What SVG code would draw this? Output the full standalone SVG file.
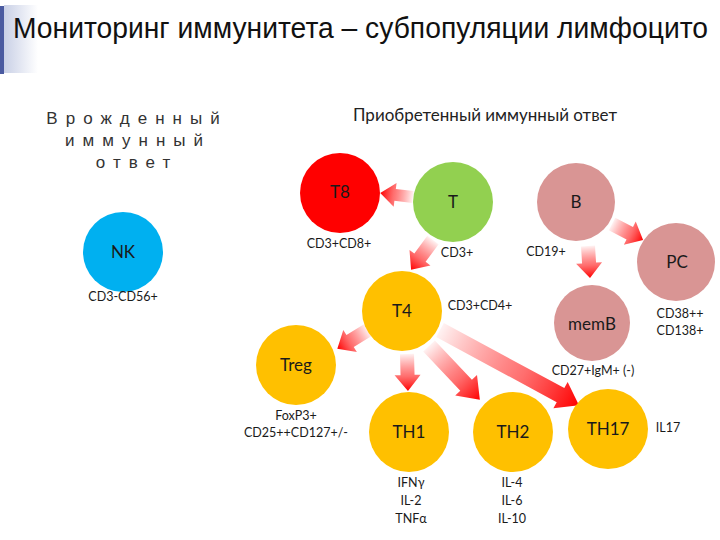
<svg xmlns="http://www.w3.org/2000/svg" width="720" height="540" viewBox="0 0 720 540">
<defs>
<linearGradient id="bar" x1="0" y1="0" x2="1" y2="0">
<stop offset="0" stop-color="#c9d0e6"/><stop offset="1" stop-color="#ffffff"/>
</linearGradient>
<linearGradient id="ag" x1="0" y1="0" x2="1" y2="0">
<stop offset="0" stop-color="#ff0000" stop-opacity="0.05"/>
<stop offset="0.6" stop-color="#ff3030" stop-opacity="0.7"/>
<stop offset="1" stop-color="#ff0000"/>
</linearGradient>
<style>
.lbl{font-family:Lato,"Open Sans","Liberation Sans",sans-serif;font-size:12.5px;fill:#1a1a1a;text-anchor:middle}
.nt{font-family:Lato,"Open Sans","Liberation Sans",sans-serif;font-size:17px;fill:#1a1a1a;text-anchor:middle}
.in{font-family:"Liberation Sans",Arial,sans-serif;font-size:17px;fill:#333;text-anchor:middle;letter-spacing:8px}
.arr{fill:url(#ag)}
</style>
</defs>
<rect width="720" height="540" fill="#ffffff"/>
<rect x="4" y="5" width="34" height="68" fill="url(#bar)"/>
<rect x="0" y="6" width="4" height="68" fill="#4a5aa0"/>
<text transform="translate(13,38) scale(1,1.25)" x="0" y="0" font-family="'Liberation Sans',Arial,sans-serif" font-size="24" fill="#111" textLength="695" lengthAdjust="spacingAndGlyphs">Мониторинг иммунитета – субпопуляции лимфоцито</text>
<g id="innate-title">
<text class="in" x="137" y="124">Врожденный</text>
<text class="in" x="138" y="146">иммунный</text>
<text class="in" x="137" y="168">ответ</text>
</g>
<text x="353" y="121" font-family="Lato,'Open Sans',sans-serif" font-size="17" fill="#222" textLength="264" lengthAdjust="spacingAndGlyphs">Приобретенный иммунный ответ</text>
<g id="connectors">
<path class="arr" transform="translate(413,197) rotate(186.9)" d="M0,-6 L18,-6 L18,-12 L33,0 L18,12 L18,6 L0,6 Z"/>
<path class="arr" transform="translate(433,240) rotate(126.3)" d="M0,-7 L22,-7 L22,-13 L37,0 L22,13 L22,7 L0,7 Z"/>
<path class="arr" transform="translate(588,246) rotate(86.4)" d="M0,-7 L17,-7 L17,-13 L32,0 L17,13 L17,7 L0,7 Z"/>
<path class="arr" transform="translate(612,224) rotate(27.3)" d="M0,-7 L20,-7 L20,-13 L35,0 L20,13 L20,7 L0,7 Z"/>
<path class="arr" transform="translate(368,330) rotate(148.5)" d="M0,-7 L21,-7 L21,-13 L36,0 L21,13 L21,7 L0,7 Z"/>
<path class="arr" transform="translate(407,354) rotate(88.5)" d="M0,-7 L21,-7 L21,-13 L37,0 L21,13 L21,7 L0,7 Z"/>
<path class="arr" transform="translate(429,346) rotate(46.6)" d="M0,-8 L54,-8 L54,-15 L74,0 L54,15 L54,8 L0,8 Z"/>
<path class="arr" transform="translate(440,330) rotate(28.4)" d="M0,-8 L137,-8 L137,-15 L158,0 L137,15 L137,8 L0,8 Z"/>
</g>
<g id="NK"><circle cx="123" cy="252" r="40" fill="#00B0F0"/><text class="nt" x="123" y="258" fill="#1f2f50">NK</text><text class="lbl" x="123" y="301">CD3-CD56+</text></g>
<g id="T8"><circle cx="340" cy="193" r="40" fill="#FF0000"/><text class="nt" x="340" y="198">T8</text><text class="lbl" x="339" y="248">CD3+CD8+</text></g>
<g id="T"><circle cx="453" cy="202" r="40" fill="#92D050"/><text class="nt" x="453" y="208">T</text><text class="lbl" x="457" y="257">CD3+</text></g>
<g id="B"><circle cx="576" cy="202" r="39" fill="#D99594"/><text class="nt" x="576" y="208">B</text><text class="lbl" x="546" y="256">CD19+</text></g>
<g id="PC"><circle cx="676" cy="262" r="39" fill="#D99594"/><text class="nt" x="677" y="268">PC</text><text class="lbl" x="680" y="318">CD38++</text><text class="lbl" x="680" y="335">CD138+</text></g>
<g id="memB"><circle cx="592" cy="323" r="38" fill="#D99594"/><text class="nt" x="592" y="330" font-size="20">memB</text><text class="lbl" x="593" y="375">CD27+IgM+ (-)</text></g>
<g id="T4"><circle cx="402" cy="311" r="40" fill="#FFC000"/><text class="nt" x="402" y="317" font-size="18">T4</text><text class="lbl" x="480" y="310">CD3+CD4+</text></g>
<g id="Treg"><circle cx="296" cy="365" r="40" fill="#FFC000"/><text class="nt" x="296" y="371">Treg</text><text class="lbl" x="296" y="420">FoxP3+</text><text class="lbl" x="296" y="437">CD25++CD127+/-</text></g>
<g id="TH1"><circle cx="409" cy="432" r="40" fill="#FFC000"/><text class="nt" x="409" y="438" font-size="18">TH1</text><text class="lbl" x="411" y="487">IFNγ</text><text class="lbl" x="411" y="505">IL-2</text><text class="lbl" x="411" y="523">TNFα</text></g>
<g id="TH2"><circle cx="513" cy="432" r="40" fill="#FFC000"/><text class="nt" x="513" y="438" font-size="18">TH2</text><text class="lbl" x="512" y="487">IL-4</text><text class="lbl" x="512" y="505">IL-6</text><text class="lbl" x="512" y="523">IL-10</text></g>
<g id="TH17"><circle cx="608" cy="429" r="40" fill="#FFC000"/><text class="nt" x="608" y="435" font-size="18">TH17</text><text class="lbl" x="668" y="432">IL17</text></g>
</svg>
